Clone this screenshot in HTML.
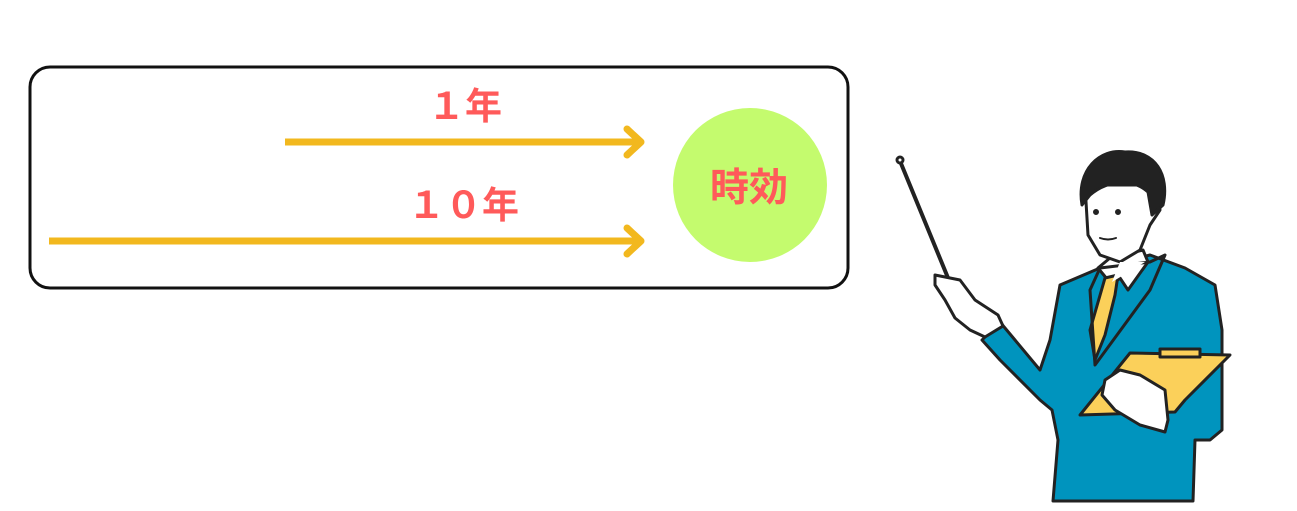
<!DOCTYPE html>
<html><head><meta charset="utf-8"><style>
html,body{margin:0;padding:0;background:#fff;}
body{width:1297px;height:511px;position:relative;overflow:hidden;font-family:"Liberation Sans","Noto Sans CJK JP",sans-serif;}
.t{position:absolute;color:#FF5A5A;font-weight:bold;font-family:"Noto Sans CJK JP",sans-serif;line-height:1;white-space:nowrap;}
</style></head><body>
<svg width="1297" height="511" style="position:absolute;left:0;top:0">
<rect x="30" y="67" width="818" height="221" rx="20" fill="#fff" stroke="#111" stroke-width="3"/>
<line x1="285" y1="142" x2="641" y2="142" stroke="#F2B81E" stroke-width="7"/>
<polyline points="627,129 641,142 627,155" fill="none" stroke="#F2B81E" stroke-width="7" stroke-linecap="round" stroke-linejoin="round"/>
<line x1="49" y1="241" x2="641" y2="241" stroke="#F2B81E" stroke-width="7"/>
<polyline points="627,228 641,241 627,254" fill="none" stroke="#F2B81E" stroke-width="7" stroke-linecap="round" stroke-linejoin="round"/>
<ellipse cx="750" cy="185" rx="77" ry="77" fill="#C4FB6E"/>
<g stroke="#222" stroke-width="3" stroke-linejoin="round" stroke-linecap="round">
<line x1="900" y1="161" x2="962" y2="312" stroke-width="4"/>
<circle cx="900" cy="160" r="3" fill="#fff"/>
<path d="M1060,285 L1100,268 L1150,255 L1185,268 L1215,285 L1222,330 L1222,430 L1210,440 L1195,440 L1193,501 L1053,501 L1058,440 L1052,410 L1040,400 L1000,360 L982,340 L1000,322 L1005,328 L1040,370 L1050,340 Z" fill="#0094BE"/>
<path d="M1098,268 L1112,285 L1120,278 L1128,290 L1148,262 L1143,250 L1110,258 Z" fill="#fff"/>
<path d="M1105,278 L1118,275 L1115,295 L1105,335 L1095,360 L1090,330 Z" fill="#FBD05A"/>
<path d="M1100,268 L1090,290 L1095,365 L1150,290 L1165,255 L1150,262 Z" fill="none"/>
<path d="M1085,185 L1088,235 L1100,255 L1120,262 L1140,250 L1150,225 L1160,210 L1158,195 L1150,185 Z" fill="#fff"/>
<path d="M1082,205 C1076,170 1100,148 1125,152 C1155,150 1170,175 1163,205 L1152,215 L1148,192 C1135,180 1110,178 1090,195 Z" fill="#222"/>
<circle cx="1096" cy="212" r="1.5" fill="#222"/>
<circle cx="1118" cy="212" r="1.5" fill="#222"/>
<path d="M1100,238 Q1108,241 1116,238" fill="none" stroke-width="2"/>
<path d="M1120,262 L1112,282 L1145,262 Z" fill="#fff" stroke="none"/>
<path d="M935,275 L960,280 L975,300 L998,315 L1003,326 L985,337 L970,330 L955,318 L945,300 L935,285 Z" fill="#fff"/>
<path d="M1080,415 L1130,353 L1230,355 L1185,400 L1175,412 Z" fill="#FBD05A"/>
<rect x="1160" y="349" width="40" height="8" fill="#FBD05A"/>
<path d="M1105,380 L1120,370 L1140,375 L1165,390 L1168,420 L1165,432 L1140,425 L1115,410 L1102,395 Z" fill="#fff"/>
</g>
</svg>
<div class="t" style="left:428px;top:85px;font-size:37px;">１年</div>
<div class="t" style="left:408px;top:184px;font-size:37px;">１０年</div>
<div class="t" style="left:710px;top:166px;font-size:39px;">時効</div>
</body></html>
